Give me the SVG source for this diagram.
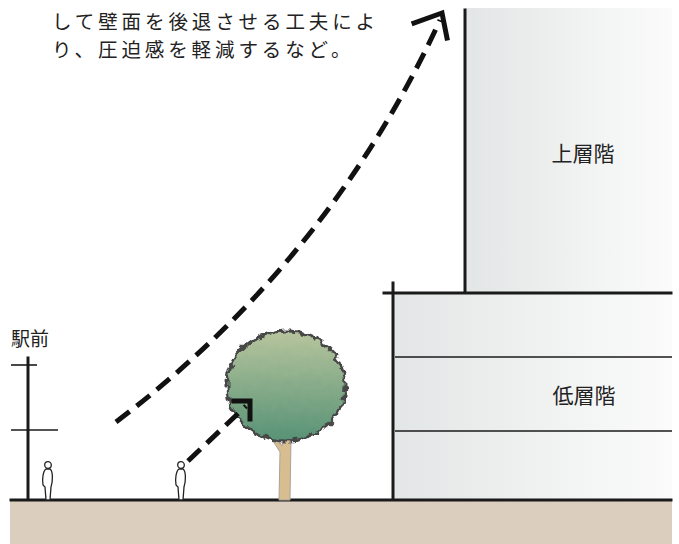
<svg xmlns="http://www.w3.org/2000/svg" xmlns:xlink="http://www.w3.org/1999/xlink" width="679" height="544" viewBox="0 0 679 544">
  <style>
    .txt { font-family: "Noto Sans CJK JP", "Noto Sans", sans-serif; fill: #222; }
    .edge { stroke: #1a1a1a; stroke-width: 3; fill: none; stroke-linecap: square; }
    .thin { stroke: #1a1a1a; stroke-width: 1.6; fill: none; }
    .dash { stroke: #111; stroke-width: 5; fill: none; stroke-dasharray: 17 9; stroke-linecap: butt; }
    .head { stroke: #111; stroke-width: 5; fill: none; stroke-linecap: square; stroke-linejoin: miter; }
    .person { fill: #fff; stroke: #222; stroke-width: 1.3; }
  </style>
  <defs>
    <linearGradient id="wall" x1="0" y1="0" x2="1" y2="0">
      <stop offset="0" stop-color="#e3e6e6"/>
      <stop offset="1" stop-color="#fbfbfb"/>
    </linearGradient>
    <linearGradient id="leaf" x1="0" y1="0" x2="0" y2="1">
      <stop offset="0" stop-color="#b7c59d"/>
      <stop offset="1" stop-color="#579276"/>
    </linearGradient>
    <filter id="ragged" x="-20%" y="-20%" width="140%" height="140%">
      <feTurbulence type="fractalNoise" baseFrequency="0.14" numOctaves="2" seed="4" result="n"/>
      <feDisplacementMap in="SourceGraphic" in2="n" scale="9" xChannelSelector="R" yChannelSelector="G"/>
    </filter>
    <g id="figure">
      <circle cx="0" cy="-35" r="3.3" class="person"/>
      <path class="person" d="M-2,-31 C-5,-29 -6,-21 -5,-15 L-3,-13 L-2,0 L2,0 L3,-13 C5,-19 5,-29 2,-31 Z"/>
    </g>
  </defs>

  <!-- ground -->
  <g id="ground">
    <rect x="10" y="500" width="662" height="44" fill="#dccebf"/>
  </g>

  <!-- upper floors -->
  <g id="upper">
    <rect x="465" y="8" width="207" height="285" fill="url(#wall)"/>
    <line class="edge" x1="465" y1="10" x2="465" y2="292"/>
    <text class="txt" x="583" y="161" font-size="21" text-anchor="middle">上層階</text>
  </g>

  <!-- lower floors -->
  <g id="lower">
    <rect x="393" y="293" width="279" height="207" fill="url(#wall)"/>
    <line class="edge" x1="384" y1="293" x2="671" y2="293"/>
    <line class="edge" x1="393" y1="283" x2="393" y2="499"/>
    <line class="thin" x1="395" y1="357" x2="672" y2="357"/>
    <line class="thin" x1="395" y1="431" x2="672" y2="431"/>
    <text class="txt" x="584" y="403" font-size="21" text-anchor="middle">低層階</text>
  </g>

  <!-- ground line -->
  <line class="edge" x1="11" y1="500" x2="671" y2="500"/>

  <!-- station side pole -->
  <g id="station">
    <text class="txt" x="11" y="346" font-size="19">駅前</text>
    <line class="edge" x1="28" y1="358" x2="28" y2="499"/>
    <line class="thin" x1="11" y1="365" x2="37" y2="365"/>
    <line class="thin" x1="11" y1="430" x2="58" y2="430"/>
  </g>

  <!-- pedestrians -->
  <g id="person1"><use xlink:href="#figure" x="48" y="500"/></g>
  <g id="person2"><use xlink:href="#figure" x="181" y="500"/></g>

  <!-- street tree -->
  <g id="tree">
    <path d="M279,500 L280,452 L273,441 L277,439 L282,446 L283,438 L291,438 L290,500 Z" fill="#d7bd90" stroke="#a8a49a" stroke-width="1"/>
    <g filter="url(#ragged)">
      <ellipse cx="286" cy="386" rx="59" ry="55" fill="url(#leaf)" stroke="#474747" stroke-width="3"/>
    </g>
  </g>

  <!-- sight lines -->
  <g id="connectors">
    <path class="dash" d="M188,461 L246,406"/>
    <path class="head" d="M234,401 L250,401 L250,419"/>
    <path class="dash" d="M116,422 Q330,260 440,20"/>
    <path class="head" d="M414,23 L442,13 L447,38"/>
  </g>

  <!-- caption, wrapped over two lines -->
  <g id="caption">
    <text class="txt" font-size="19.5" letter-spacing="3.9"><tspan x="52" y="28.5">して壁面を後退させる工夫によ</tspan><tspan x="52" y="57">り、圧迫感を軽減するなど。</tspan></text>
  </g>
</svg>
